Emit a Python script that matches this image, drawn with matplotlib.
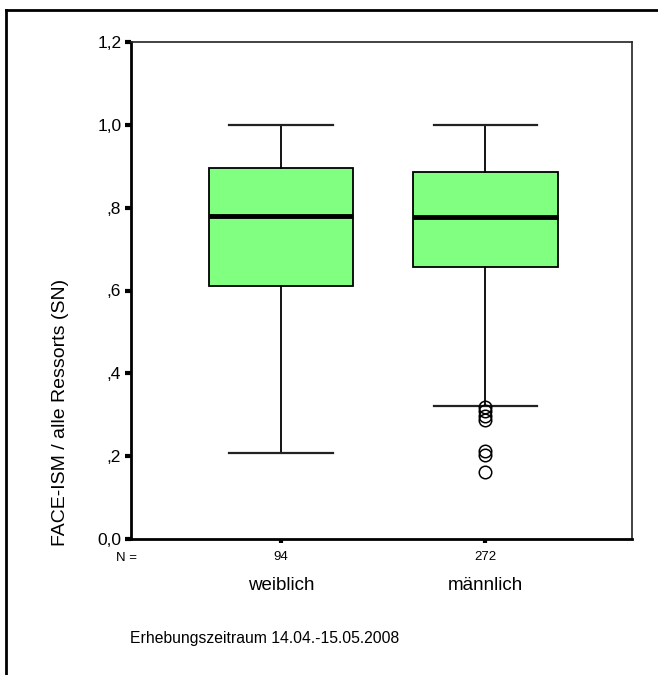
import matplotlib
matplotlib.use("Agg")
import matplotlib.pyplot as plt
from matplotlib.lines import Line2D

plt.rcParams['font.family'] = ['Liberation Sans', 'DejaVu Sans']

categories = ["weiblich", "männlich"]
n_counts = ["94", "272"]
whislo = [0.208, 0.321]
q1 = [0.611, 0.657]
med = [0.780, 0.778]
q3 = [0.896, 0.886]
whishi = [1.0, 1.0]
outliers = [[], [0.318, 0.310, 0.296, 0.287, 0.213, 0.203, 0.162]]
ytick_vals = [0.0, 0.2, 0.4, 0.6, 0.8, 1.0, 1.2]
ytick_labels = ["0,0", ",2", ",4", ",6", ",8", "1,0", "1,2"]

fig = plt.figure(figsize=(6.58, 6.75), dpi=100)
ax = fig.add_axes([131/658, 136/675, 501/658, 497/675])

stats = []
for i in range(len(categories)):
    stats.append(dict(med=med[i], q1=q1[i], q3=q3[i], whislo=whislo[i],
                      whishi=whishi[i], fliers=outliers[i], label=categories[i]))

ax.bxp(stats, positions=[1, 2], widths=0.71, capwidths=0.505, patch_artist=True,
       boxprops=dict(facecolor="#80ff80", edgecolor="black", linewidth=1.3),
       medianprops=dict(color="black", linewidth=3.5),
       whiskerprops=dict(color="black", linewidth=1.3),
       capprops=dict(color="#222222", linewidth=1.6),
       flierprops=dict(marker="o", markerfacecolor="none", markeredgecolor="black",
                       markersize=9, markeredgewidth=1.1))

ax.set_xlim(0.265, 2.72)
ax.set_ylim(0, 1.2)
ax.set_yticks(ytick_vals)
ax.set_yticklabels(ytick_labels, fontsize=12.5)
ax.set_xticks([1, 2])
ax.set_xticklabels(n_counts, fontsize=9.5)
ax.tick_params(axis='y', direction='out', length=4, width=3, pad=3)
ax.tick_params(axis='x', direction='out', length=3, width=3, pad=6)

for s in ['left', 'bottom']:
    ax.spines[s].set_linewidth(2)
for s in ['top', 'right']:
    ax.spines[s].set_linewidth(1.2)
    ax.spines[s].set_color('#222222')

fig.text(61/658, 1 - 412/675, "FACE-ISM / alle Ressorts (SN)", fontsize=14,
         rotation=90, ha='center', va='center')

fig.text(116/658, 1 - 558/675, "N =", fontsize=9.5, ha='left', va='center')
for i, c in enumerate(categories):
    x = ax.transData.transform((i + 1, 0))[0] / fig.bbox.width
    fig.text(x, 1 - 586/675, c, fontsize=13.5, ha='center', va='center')

fig.text(130/658, 1 - 639/675, "Erhebungszeitraum 14.04.-15.05.2008", fontsize=11.3,
         ha='left', va='center')

# outer frame (left and top edges)
fig.add_artist(Line2D([6/658, 6/658], [0, 1 - 10/675], color='black', linewidth=2,
                      transform=fig.transFigure))
fig.add_artist(Line2D([6/658, 1], [1 - 10/675, 1 - 10/675], color='black', linewidth=2,
                      transform=fig.transFigure))

fig.savefig("out.png", dpi=100)
